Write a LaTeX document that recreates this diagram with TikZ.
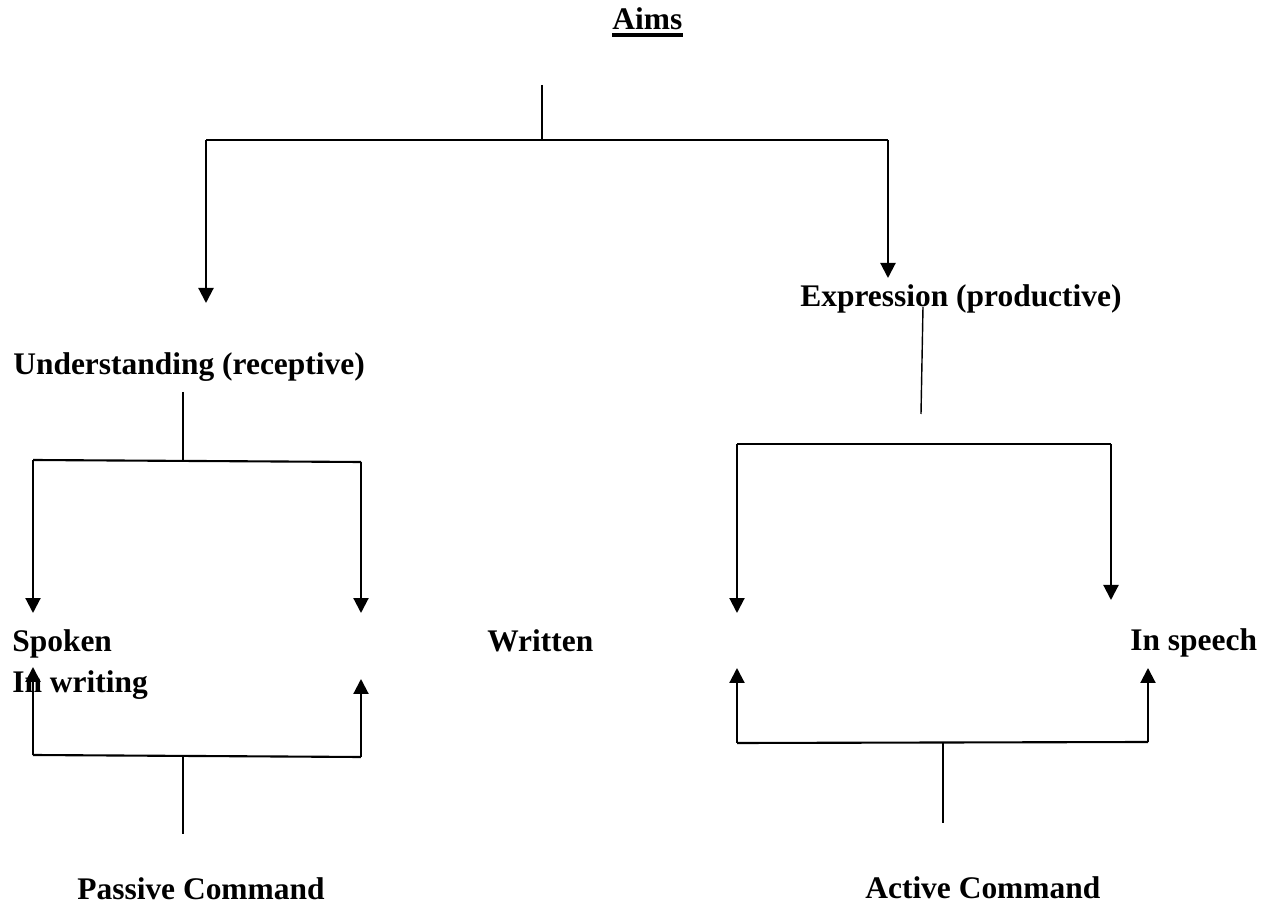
\documentclass[tikz,border=0pt]{standalone}
\usepackage{fontspec}
\setmainfont{Liberation Serif}
\usetikzlibrary{arrows.meta}
\begin{document}
\begin{tikzpicture}[x=0.02cm,y=-0.02cm,
  lbl/.style={anchor=base west,inner sep=0pt,font=\fontsize{17.9}{21}\selectfont\bfseries},
  arr/.style={line width=1.2pt,-{Triangle[width=0.3cm,length=0.3cm]}},
  bar/.style={line width=1.2pt},
  stub/.style={line width=0.8pt},
  uline/.style={line width=2pt}]
\useasboundingbox (0,0) rectangle (1269,908);
% labels
\node[lbl] (aims) at (612,30) {Aims};
\node[lbl] (expr) at (800,307) {Expression (productive)};
\node[lbl] (und) at (13,375) {Understanding (receptive)};
\node[lbl] (spoken) at (12,652) {Spoken};
\node[lbl] (inwriting) at (12,693) {In writing};
\node[lbl] (written) at (487,652) {Written};
\node[lbl] (inspeech) at (1130,651) {In speech};
\node[lbl] (passive) at (77,900) {Passive Command};
\node[lbl] (active) at (865,899) {Active Command};
% underline of Aims
\draw[uline] ([yshift=-0.1cm]aims.base west) -- ([yshift=-0.1cm]aims.base east);
% coordinates
\coordinate (a0) at (542,85);
\coordinate (a1) at (542,140);
\coordinate (aL) at (206,140);
\coordinate (aR) at (888,140);
\coordinate (aLt) at (206,303);
\coordinate (aRt) at (888,278);
\coordinate (e0) at (923,307);
\coordinate (e1) at (921,414);
\coordinate (rtL) at (737,444);
\coordinate (rtR) at (1111,444);
\coordinate (rtLt) at (737,613);
\coordinate (rtRt) at (1111,600);
\coordinate (rbL) at (737,743);
\coordinate (rbR) at (1148,742);
\coordinate (rbM) at (943,742);
\coordinate (rbLt) at (737,668);
\coordinate (rbRt) at (1148,668);
\coordinate (rb0) at (943,823);
\coordinate (u0) at (183,392);
\coordinate (u1) at (183,460);
\coordinate (ltL) at (33,460);
\coordinate (ltR) at (361,462);
\coordinate (ltLt) at (33,613);
\coordinate (ltRt) at (361,613);
\coordinate (lbL) at (33,755);
\coordinate (lbR) at (361,757);
\coordinate (lbM) at (183,756);
\coordinate (lbLt) at (33,667);
\coordinate (lbRt) at (361,679);
\coordinate (lb0) at (183,834);
% top
\draw[stub] (a0) -- (a1);
\draw[bar] (aL) -- (aR);
\draw[arr] (aL) -- (aLt);
\draw[arr] (aR) -- (aRt);
% expression branch
\draw[stub] (e0) -- (e1);
\draw[bar] (rtL) -- (rtR);
\draw[arr] (rtL) -- (rtLt);
\draw[arr] (rtR) -- (rtRt);
\draw[bar] (rbL) -- (rbR);
\draw[arr] (rbL) -- (rbLt);
\draw[arr] (rbR) -- (rbRt);
\draw[stub] (rbM) -- (rb0);
% understanding branch
\draw[stub] (u0) -- (u1);
\draw[bar] (ltL) -- (ltR);
\draw[arr] (ltL) -- (ltLt);
\draw[arr] (ltR) -- (ltRt);
\draw[bar] (lbL) -- (lbR);
\draw[arr] (lbL) -- (lbLt);
\draw[arr] (lbR) -- (lbRt);
\draw[stub] (lbM) -- (lb0);
\end{tikzpicture}
\end{document}
